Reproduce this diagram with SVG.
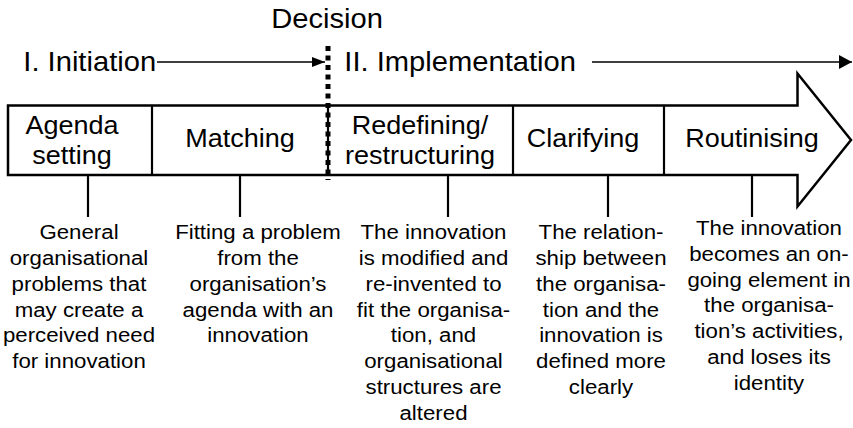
<svg xmlns="http://www.w3.org/2000/svg" width="853" height="428" viewBox="0 0 853 428">
  <style>
    text { font-family: "Liberation Sans", Arial, sans-serif; fill: #000; }
    .hdr { font-size: 27.5px; }
    .lbl { font-size: 25.5px; text-anchor: middle; }
    .desc { font-size: 21px; text-anchor: middle; }
    .outline { fill: #fff; stroke: #000; stroke-width: 2.5; stroke-linejoin: miter; }
    .div { stroke: #000; stroke-width: 2.2; fill: none; }
    .tick { stroke: #000; stroke-width: 2.2; fill: none; }
    .phase { stroke: #000; stroke-width: 1.6; fill: none; }
    .dots { stroke: #000; stroke-width: 5; stroke-dasharray: 5 4.5; fill: none; }
  </style>
  <defs>
    <marker id="ah1" markerUnits="userSpaceOnUse" markerWidth="13" markerHeight="10" refX="13" refY="5" orient="auto">
      <path d="M0,0 L13,5 L0,10 z" fill="#000"/>
    </marker>
    <marker id="ah2" markerUnits="userSpaceOnUse" markerWidth="13" markerHeight="14" refX="13" refY="7" orient="auto">
      <path d="M0,0 L13,7 L0,14 z" fill="#000"/>
    </marker>
  </defs>

  <g id="process-arrow">
    <polygon class="outline" points="8,105.5 797.5,105.5 797.5,73.5 851,140 797.5,206.5 797.5,175 8,175"/>
  </g>

  <g id="header-decision">
    <text class="hdr" text-anchor="middle" transform="translate(327,27.5) scale(1.06,1)">Decision</text>
  </g>
  <g id="header-initiation">
    <text class="hdr" transform="translate(23.3,71) scale(1.06,1)">I. Initiation</text>
  </g>
  <g id="header-implementation">
    <text class="hdr" transform="translate(344.3,71) scale(1.06,1)">II. Implementation</text>
  </g>

  <g id="stage-agenda-setting">
    <text class="lbl" transform="translate(72,133.5) scale(1.06,1)">Agenda</text>
    <text class="lbl" transform="translate(72,164) scale(1.06,1)">setting</text>
  </g>
  <g id="stage-matching">
    <line class="div" x1="152" y1="105.5" x2="152" y2="175"/>
    <text class="lbl" transform="translate(240,146.5) scale(1.06,1)">Matching</text>
  </g>
  <g id="stage-redefining">
    <line class="div" x1="328" y1="105.5" x2="328" y2="175"/>
    <text class="lbl" transform="translate(420,133.5) scale(1.06,1)">Redefining/</text>
    <text class="lbl" transform="translate(420,164) scale(1.06,1)">restructuring</text>
  </g>
  <g id="stage-clarifying">
    <line class="div" x1="513" y1="105.5" x2="513" y2="175"/>
    <text class="lbl" transform="translate(583,146.5) scale(1.06,1)">Clarifying</text>
  </g>
  <g id="stage-routinising">
    <line class="div" x1="664" y1="105.5" x2="664" y2="175"/>
    <text class="lbl" transform="translate(752,146.5) scale(1.06,1)">Routinising</text>
  </g>

  <g id="decision-line">
    <line class="dots" x1="328" y1="46" x2="328" y2="180"/>
  </g>

  <g id="desc-agenda-setting" transform="translate(79,0) scale(1.06,1)">
    <text class="desc" x="0" y="239.3">General</text>
    <text class="desc" x="0" y="265.1">organisational</text>
    <text class="desc" x="0" y="290.9">problems that</text>
    <text class="desc" x="0" y="316.7">may create a</text>
    <text class="desc" x="0" y="342.5">perceived need</text>
    <text class="desc" x="0" y="368.3">for innovation</text>
  </g>
  <g id="desc-matching" transform="translate(258,0) scale(1.06,1)">
    <text class="desc" x="0" y="239.3">Fitting a problem</text>
    <text class="desc" x="0" y="265.1">from the</text>
    <text class="desc" x="0" y="290.9">organisation’s</text>
    <text class="desc" x="0" y="316.7">agenda with an</text>
    <text class="desc" x="0" y="342.5">innovation</text>
  </g>
  <g id="desc-redefining" transform="translate(433.5,0) scale(1.06,1)">
    <text class="desc" x="0" y="239.3">The innovation</text>
    <text class="desc" x="0" y="265.1">is modified and</text>
    <text class="desc" x="0" y="290.9">re-invented to</text>
    <text class="desc" x="0" y="316.7">fit the organisa-</text>
    <text class="desc" x="0" y="342.5">tion, and</text>
    <text class="desc" x="0" y="368.3">organisational</text>
    <text class="desc" x="0" y="394.1">structures are</text>
    <text class="desc" x="0" y="419.9">altered</text>
  </g>
  <g id="desc-clarifying" transform="translate(601,0) scale(1.06,1)">
    <text class="desc" x="0" y="239.3">The relation-</text>
    <text class="desc" x="0" y="265.1">ship between</text>
    <text class="desc" x="0" y="290.9">the organisa-</text>
    <text class="desc" x="0" y="316.7">tion and the</text>
    <text class="desc" x="0" y="342.5">innovation is</text>
    <text class="desc" x="0" y="368.3">defined more</text>
    <text class="desc" x="0" y="394.1">clearly</text>
  </g>
  <g id="desc-routinising" transform="translate(769,0) scale(1.06,1)">
    <text class="desc" x="0" y="235">The innovation</text>
    <text class="desc" x="0" y="260.8">becomes an on-</text>
    <text class="desc" x="0" y="286.6">going element in</text>
    <text class="desc" x="0" y="312.4">the organisa-</text>
    <text class="desc" x="0" y="338.2">tion’s activities,</text>
    <text class="desc" x="0" y="364">and loses its</text>
    <text class="desc" x="0" y="389.8">identity</text>
  </g>

  <g id="connectors">
    <line class="phase" x1="157" y1="62" x2="325" y2="62" marker-end="url(#ah1)"/>
    <line class="phase" x1="592" y1="62" x2="852" y2="62" marker-end="url(#ah2)"/>
    <line class="tick" x1="88" y1="175" x2="88" y2="217"/>
    <line class="tick" x1="240" y1="175" x2="240" y2="217"/>
    <line class="tick" x1="448" y1="175" x2="448" y2="217"/>
    <line class="tick" x1="608" y1="175" x2="608" y2="217"/>
    <line class="tick" x1="752" y1="175" x2="752" y2="217"/>
  </g>
</svg>
